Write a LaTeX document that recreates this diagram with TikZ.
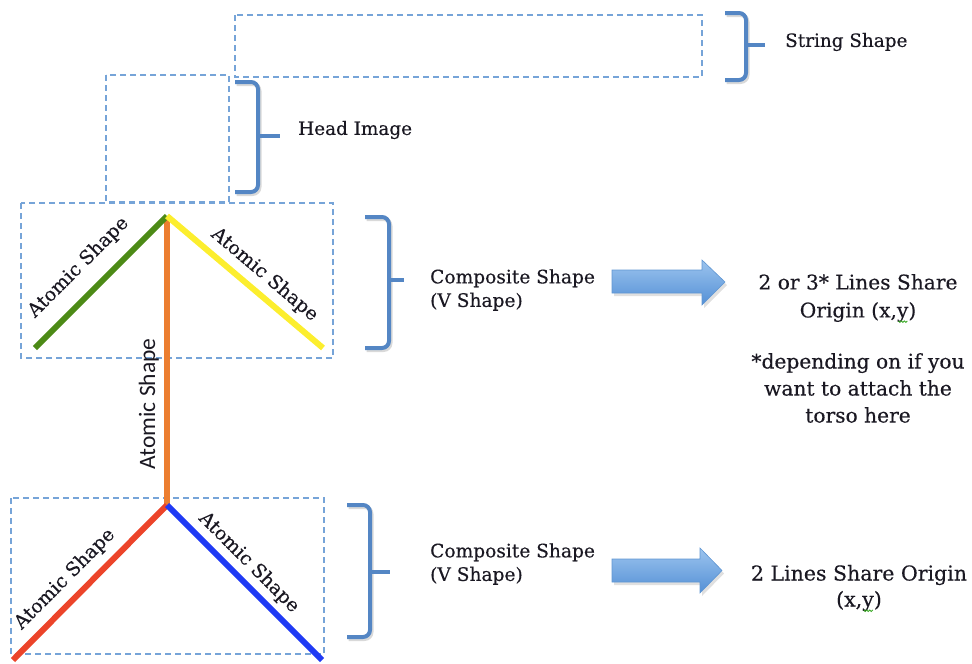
\documentclass[tikz,border=0pt]{standalone}
\usepackage{fontspec}
\setmainfont{DejaVu Serif}[FakeBold=0.35]
\newfontfamily\limbsans{Carlito}
\usetikzlibrary{calc}

\definecolor{framecol}{RGB}{118,164,216}
\definecolor{bracecol}{RGB}{84,134,196}
\definecolor{inkcol}{RGB}{26,24,34}
\definecolor{limbgreen}{RGB}{76,138,22}
\definecolor{limbyellow}{RGB}{252,238,46}
\definecolor{limborange}{RGB}{236,126,48}
\definecolor{limbred}{RGB}{236,68,42}
\definecolor{limbblue}{RGB}{32,58,244}
\definecolor{arrowtop}{RGB}{156,196,238}
\definecolor{arrowbot}{RGB}{84,144,214}
\definecolor{arrowedge}{RGB}{96,150,210}
\definecolor{spellgreen}{RGB}{60,170,40}

% curly-style bracket: stub at x0, spine at x1, tip at xt
\newcommand\drawbrace[6]{%
  \draw[braceshadow] ($(#1,#4)+(1.5,2)$) -- ($(#2,#4)+(1.5,2)$) -- ($(#2,#6)+(1.5,2)$) -- ($(#1,#6)+(1.5,2)$);
  \draw[bracestroke] (#1,#4) -- (#2,#4) -- (#2,#6) -- (#1,#6);
  \draw[bracestroke] (#2,#5) -- (#3,#5);
}

% wavy spell-check underline under the preceding letter
\newcommand\spellmark{\tikz[overlay, x=1pt, y=1pt, baseline=0pt]
  \draw[spellgreen, line width=0.9pt] (-10,-3.5) -- (-8.5,-5) -- (-7,-3.5) -- (-5.5,-5) -- (-4,-3.5) -- (-2.5,-5) -- (-1,-3.5);}

\begin{document}
\begin{tikzpicture}[x=1pt,y=-1pt,
  frame/.style={draw=framecol, line width=1.4pt, dash pattern=on 6pt off 4pt},
  limb/.style={line width=6pt},
  bracestroke/.style={draw=bracecol, line width=4pt, rounded corners=7pt},
  braceshadow/.style={draw=black, opacity=0.15, line width=4pt, rounded corners=7pt},
  caption/.style={text=inkcol, inner sep=0pt},
  note/.style={font=\fontsize{20.2}{28}\selectfont, text=inkcol, inner sep=0pt, align=center},
  atomic/.style={font=\fontsize{19}{20}\selectfont, text=inkcol, inner sep=0pt, sloped},
  blockarrow/.style={top color=arrowtop, bottom color=arrowbot, draw=arrowedge, line width=0.6pt},
  arrowshadow/.style={fill=black, opacity=0.12}
]
\useasboundingbox (0,0) rectangle (972,664);

% ---- dashed regions ----
\draw[frame] (235,15) rectangle (702,77);
\draw[frame] (106,75) rectangle (229,202);
\draw[frame] (21,203) rectangle (333,358);
\draw[frame] (11,498) rectangle (324,654);

% ---- joints of the figure ----
\coordinate (neck) at (167,216);
\coordinate (hip) at (167,505);
\coordinate (lhand) at (35,348);
\coordinate (rhand) at (323,348);
\coordinate (lfoot) at (13,660);
\coordinate (rfoot) at (322,660);

% ---- limbs ----
\draw[limb, limborange] (neck) -- (hip)
  node[pos=0.65, left=5pt, anchor=south, rotate=90, inner sep=0pt,
       font=\limbsans\fontsize{23.5}{25}\selectfont, text=inkcol] (torsolabel) {Atomic Shape};
\draw[limb, limbgreen] (lhand) -- (neck)
  node[atomic, pos=0.47, above=14pt] (armlabelL) {Atomic Shape};
\draw[limb, limbyellow] (neck) -- (rhand)
  node[atomic, pos=0.55, above=6pt] (armlabelR) {Atomic Shape};
\draw[limb, limbred] (lfoot) -- (hip)
  node[atomic, pos=0.43, above=8pt] (leglabelL) {Atomic Shape};
\draw[limb, limbblue] (hip) -- (rfoot)
  node[atomic, pos=0.45, above=5pt] (leglabelR) {Atomic Shape};

% ---- brackets ----
\drawbrace{725}{746}{765}{13}{45}{80}
\drawbrace{235}{258}{280}{82}{136}{192}
\drawbrace{365}{389}{404}{217}{280}{348}
\drawbrace{347}{370}{390}{505}{572}{637}

% ---- captions ----
\node[caption, anchor=west, font=\fontsize{18.4}{22}\selectfont] (stringcap) at (785,42) {String Shape};
\node[caption, anchor=west, font=\fontsize{18.4}{22}\selectfont] (headcap) at (298,130) {Head Image};
\node[caption, anchor=west, align=left, font=\fontsize{18.6}{23.5}\selectfont] (armscap) at (430,290) {Composite Shape\\(V Shape)};
\node[caption, anchor=west, align=left, font=\fontsize{18.6}{23.5}\selectfont] (legscap) at (430,564) {Composite Shape\\(V Shape)};

% ---- block arrows ----
\coordinate (a1) at (612,270);
\fill[arrowshadow] ($(a1)+(2,3)$) -- ++(90,0) -- ++(0,-10) -- ++(23,22) -- ++(-23,23) -- ++(0,-12) -- ++(-90,0) -- cycle;
\path[blockarrow] (a1) -- ++(90,0) -- ++(0,-10) -- ++(23,22) -- ++(-23,23) -- ++(0,-12) -- ++(-90,0) -- cycle;
\coordinate (a2) at (612,559);
\fill[arrowshadow] ($(a2)+(2,3)$) -- ++(88,0) -- ++(0,-11) -- ++(22,22.5) -- ++(-22,22.5) -- ++(0,-11) -- ++(-88,0) -- cycle;
\path[blockarrow] (a2) -- ++(88,0) -- ++(0,-11) -- ++(22,22.5) -- ++(-22,22.5) -- ++(0,-11) -- ++(-88,0) -- cycle;

% ---- results ----
\node[note] (armsres) at (858,298) {2 or 3* Lines Share\\Origin (x,y\spellmark)};
\node[note, font=\fontsize{20.2}{27}\selectfont] (footnote) at (858,388) {*depending on if you\\want to attach the\\torso here};
\node[note, font=\fontsize{20.5}{26}\selectfont] (legsres) at (859,588) {2 Lines Share Origin\\(x,y\spellmark)};

\end{tikzpicture}
\end{document}
